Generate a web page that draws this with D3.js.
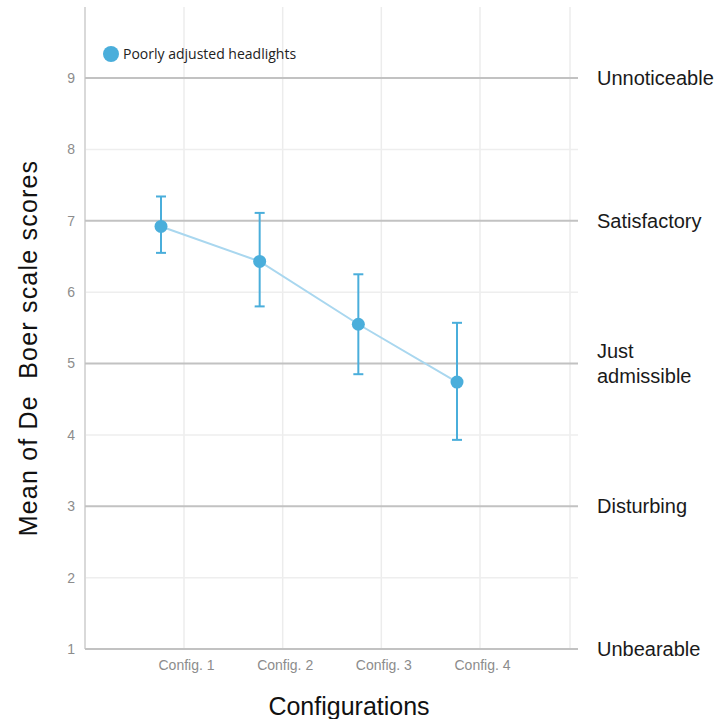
<!DOCTYPE html>
<html>
<head>
<meta charset="utf-8">
<script src="https://cdn.jsdelivr.net/npm/d3@7"></script>
<style>
  html, body { margin: 0; padding: 0; background: #fff; }
  svg { display: block; }
</style>
</head>
<body>
<svg id="chart" width="715" height="719"></svg>
<script>
'use strict';

/* ── Data ─────────────────────────────────────────────── */
const configs   = ['Config. 1', 'Config. 2', 'Config. 3', 'Config. 4'];
const means     = [6.92, 6.43, 5.55, 4.74];
const errLow    = [6.55, 5.80, 4.85, 3.93];
const errHigh   = [7.34, 7.11, 6.25, 5.57];
const yTicks    = [1, 2, 3, 4, 5, 6, 7, 8, 9];
const scaleNames = [
  { v: 9, lines: ['Unnoticeable'] },
  { v: 7, lines: ['Satisfactory'] },
  { v: 5, lines: ['Just', 'admissible'] },
  { v: 3, lines: ['Disturbing'] },
  { v: 1, lines: ['Unbearable'] }
];
const seriesName = 'Poorly adjusted headlights';

/* ── Layout ───────────────────────────────────────────── */
const svg = d3.select('#chart');
const PLOT_L = 85, PLOT_R = 578, PLOT_T = 7;
const BLUE = '#4aaedb', LINE_BLUE = '#a9d7ef';
const DODGE = -23;
const FONT = 'Liberation Sans, Arial, sans-serif';

const x = d3.scalePoint().domain(configs).range([184, 480]);
const y = d3.scaleLinear().domain([1, 9]).range([649, 78]);
const PLOT_B = y(1);

/* ── Grid ── */
svg.append('g').selectAll('line')
  .data(configs.concat(['end']))
  .join('line')
  .attr('x1', d => d === 'end' ? PLOT_R - 8 : x(d))
  .attr('x2', d => d === 'end' ? PLOT_R - 8 : x(d))
  .attr('y1', PLOT_T).attr('y2', PLOT_B)
  .attr('stroke', '#ececec').attr('stroke-width', 1.5);

svg.append('g').selectAll('line')
  .data(yTicks.filter(v => v % 2 === 0))
  .join('line')
  .attr('x1', PLOT_L).attr('x2', PLOT_R)
  .attr('y1', d => y(d)).attr('y2', d => y(d))
  .attr('stroke', '#eeeeee').attr('stroke-width', 1.5);

/* left axis line */
svg.append('line')
  .attr('x1', PLOT_L).attr('x2', PLOT_L)
  .attr('y1', PLOT_T).attr('y2', PLOT_B)
  .attr('stroke', '#d9d9d9').attr('stroke-width', 2);

svg.append('g').selectAll('line')
  .data(yTicks.filter(v => v % 2 === 1))
  .join('line')
  .attr('x1', PLOT_L).attr('x2', PLOT_R)
  .attr('y1', d => y(d)).attr('y2', d => y(d))
  .attr('stroke', '#c2c2c2').attr('stroke-width', 2);

/* ── Axes labels ── */
const yAxis = d3.axisLeft(y).tickValues(yTicks).tickSize(0).tickPadding(0);
const yg = svg.append('g').attr('transform', `translate(${PLOT_L - 10},0)`).call(yAxis);
yg.select('.domain').remove();
yg.selectAll('.tick text')
  .attr('font-family', FONT)
  .attr('font-size', 14).attr('fill', '#8c8c8c');

const xAxis = d3.axisBottom(x).tickSize(0).tickPadding(0);
const xg = svg.append('g').attr('transform', `translate(2,${PLOT_B + 11})`).call(xAxis);
xg.select('.domain').remove();
xg.selectAll('.tick text')
  .attr('font-family', FONT)
  .attr('font-size', 14).attr('fill', '#8c8c8c')
  .attr('dy', '0.7em');

/* ── Right-side scale names ── */
scaleNames.forEach(s => {
  const t = svg.append('text')
    .attr('x', 597)
    .attr('y', y(s.v) - (s.lines.length - 1) * 12.5)
    .attr('font-family', FONT)
    .attr('font-size', 20).attr('fill', '#1a1a1a');
  s.lines.forEach((ln, i) => {
    t.append('tspan').attr('x', 597).attr('dy', i === 0 ? '0.35em' : 25).text(ln);
  });
});

/* ── Axis titles ── */
svg.append('text')
  .attr('transform', `translate(37,${348}) rotate(-90)`)
  .attr('text-anchor', 'middle')
  .attr('font-family', FONT)
  .attr('font-size', 25).attr('fill', '#111')
  .attr('letter-spacing', 1.2)
  .style('white-space', 'pre')
  .text('Mean of De  Boer scale scores');

svg.append('text')
  .attr('x', 349).attr('y', 715)
  .attr('text-anchor', 'middle')
  .attr('font-family', FONT)
  .attr('font-size', 25).attr('fill', '#111')
  .text('Configurations');

/* ── Series ── */
const pts = configs.map((c, i) => ({ c, m: means[i], lo: errLow[i], hi: errHigh[i] }));
const px = d => x(d.c) + DODGE;

svg.append('path')
  .datum(pts)
  .attr('fill', 'none')
  .attr('stroke', LINE_BLUE).attr('stroke-width', 2)
  .attr('d', d3.line().x(px).y(d => y(d.m)));

const eb = svg.append('g').selectAll('g').data(pts).join('g');
eb.append('line')
  .attr('x1', px).attr('x2', px)
  .attr('y1', d => y(d.lo)).attr('y2', d => y(d.hi))
  .attr('stroke', BLUE).attr('stroke-width', 2);
['lo', 'hi'].forEach(k => {
  eb.append('line')
    .attr('x1', d => px(d) - 5).attr('x2', d => px(d) + 5)
    .attr('y1', d => y(d[k])).attr('y2', d => y(d[k]))
    .attr('stroke', BLUE).attr('stroke-width', 2);
});
eb.append('circle')
  .attr('cx', px).attr('cy', d => y(d.m)).attr('r', 6.5)
  .attr('fill', BLUE);

/* ── Legend ── */
svg.append('circle').attr('cx', 111).attr('cy', 54).attr('r', 8).attr('fill', BLUE);
svg.append('text')
  .attr('x', 123).attr('y', 54).attr('dy', '0.35em')
  .attr('font-family', 'Open Sans, sans-serif')
  .attr('font-size', 14).attr('fill', '#222')
  .text(seriesName);
</script>
</body>
</html>
